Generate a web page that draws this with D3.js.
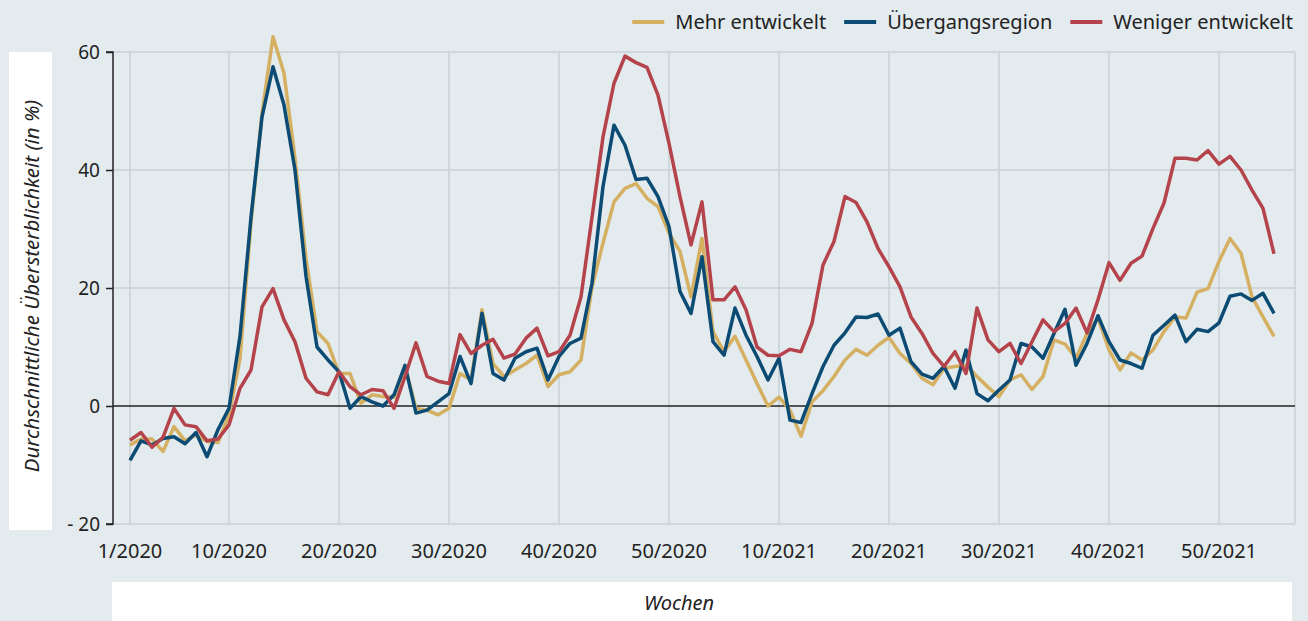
<!DOCTYPE html>
<html>
<head>
<meta charset="utf-8">
<script src="https://cdn.jsdelivr.net/npm/d3@7"></script>
<style>
  body { margin: 0; background: #e3ebee; }
  svg { display: block; font-family: "Noto Sans", sans-serif; }
</style>
</head>
<body>
<div id="chart"></div>
<script>
// weekly average excess mortality by region type (in %)
var weekIndex = d3.range(105);

var mehrEntwickelt = [
  -6.6, -5.6, -5.6, -7.7, -3.5, -5.9, -4.9, -6.0, -6.2, -1.5,
  8, 31, 49.6, 62.6, 56.4, 42, 25, 12.6, 10.6, 5.5,
  5.5, 0.5, 1.9, 1.6, 1.5, 6.7, -0.4, -0.7, -1.5, -0.4,
  5.5, 4.4, 16.3, 7.2, 5, 6.1, 7.2, 8.6, 3.3, 5.3,
  5.8, 7.8, 20.2, 27.6, 34.6, 36.9, 37.7, 35.2, 33.8, 29.3,
  26.2, 18.5, 28.4, 12.6, 9.2, 11.8, 7.8, 3.8, 0.0, 1.5,
  -0.7, -5.1, 0.7, 2.6, 5, 7.8, 9.6, 8.6, 10.3, 11.6,
  8.9, 7.2, 4.7, 3.6, 6.4, 6.7, 6.9, 5, 3.2, 1.6,
  4.4, 5.3, 2.8, 5, 11.2, 10.5, 8.1, 12.3, 14.9, 9.5,
  6.1, 9, 7.8, 9.5, 12.6, 15.1, 14.9, 19.3, 19.9, 24.5,
  28.4, 25.9, 18.5, 15.1, 11.8
];

var uebergangsregion = [
  -9.2, -5.9, -6.6, -5.5, -5.2, -6.4, -4.5, -8.6, -4, -0.4,
  11.8, 32, 49, 57.5, 51, 40, 22, 10, 7.8, 5.8,
  -0.4, 1.6, 0.7, 0, 1.9, 6.9, -1.2, -0.7, 0.7, 2.1,
  8.4, 3.8, 15.7, 5.5, 4.4, 8.1, 9.2, 9.8, 4.4, 8.4,
  10.6, 11.5, 20.8, 37.2, 47.6, 44.2, 38.4, 38.6, 35.5, 30.4,
  19.4, 15.7, 25.3, 10.9, 8.6, 16.6, 12, 8.4, 4.4, 8.1,
  -2.4, -2.8, 2.1, 6.7, 10.3, 12.4, 15.1, 15, 15.6, 12,
  13.2, 7.5, 5.4, 4.7, 6.7, 3, 9.5, 2.1, 0.9, 2.7,
  4.4, 10.6, 10, 8.1, 12.3, 16.4, 6.9, 10.6, 15.3, 10.9,
  7.8, 7.2, 6.4, 12, 13.7, 15.4, 10.9, 13, 12.6, 14.1,
  18.6, 19, 17.9, 19.1, 15.7
];

var wenigerEntwickelt = [
  -5.8, -4.5, -7, -5.3, -0.4, -3.2, -3.5, -5.9, -5.6, -3.2,
  3, 6.1, 16.8, 19.9, 14.6, 10.9, 4.7, 2.4, 1.9, 5.8,
  3.3, 1.9, 2.8, 2.6, -0.4, 5, 10.7, 5, 4.2, 3.8,
  12.1, 8.9, 10.3, 11.3, 8.1, 8.8, 11.5, 13.2, 8.5, 9.2,
  12, 18.5, 32, 45.6, 54.7, 59.3, 58.2, 57.4, 52.7, 44.5,
  35.5, 27.3, 34.6, 18, 18, 20.2, 16.3, 10, 8.6, 8.5,
  9.6, 9.2, 14, 23.9, 27.9, 35.5, 34.5, 31.2, 26.7, 23.6,
  20.2, 15.1, 12.3, 8.9, 6.7, 9.2, 5.5, 16.6, 11.2, 9.2,
  10.6, 7.2, 10.9, 14.6, 12.6, 14, 16.6, 12.4, 18, 24.3,
  21.3, 24.2, 25.4, 30.1, 34.4, 42, 42, 41.7, 43.3, 41,
  42.3, 40, 36.6, 33.5, 25.8
];

// x tick positions (index into the weeks) and their labels
var tickIndex = [0, 9, 19, 29, 39, 49, 59, 69, 79, 89, 99];
var tickLabels = ["1/2020", "10/2020", "20/2020", "30/2020", "40/2020", "50/2020",
  "10/2021", "20/2021", "30/2021", "40/2021", "50/2021"];

var yTicks = [-20, 0, 20, 40, 60];

var seriesNames = ["Mehr entwickelt", "Übergangsregion", "Weniger entwickelt"];
var seriesColors = ["#d5b062", "#0c4b74", "#b4434b"];
var seriesValues = [mehrEntwickelt, uebergangsregion, wenigerEntwickelt];

var svgWidth = 1308;
var svgHeight = 621;

var plot = { left: 113, right: 1295, top: 52, bottom: 524 };

var svg = d3.select("#chart")
  .append("svg")
  .attr("width", svgWidth)
  .attr("height", svgHeight);

svg.append("rect")
  .attr("width", svgWidth)
  .attr("height", svgHeight)
  .attr("fill", "#e3ebee");

// scales
var x = d3.scaleLinear().domain([0, 104]).range([130, 1274]);
var y = d3.scaleLinear().domain([-20, 60]).range([plot.bottom, plot.top]);

// gridlines
svg.append("g")
  .selectAll("line")
  .data(yTicks.filter(d => d !== 0))
  .enter().append("line")
  .attr("x1", plot.left)
  .attr("x2", plot.right)
  .attr("y1", d => y(d))
  .attr("y2", d => y(d))
  .attr("stroke", "#c9d0d3")
  .attr("stroke-width", 1.5);

svg.append("g")
  .selectAll("line")
  .data(tickIndex)
  .enter().append("line")
  .attr("x1", d => x(d))
  .attr("x2", d => x(d))
  .attr("y1", plot.top)
  .attr("y2", plot.bottom)
  .attr("stroke", "#c9d0d3")
  .attr("stroke-width", 1.5);

// right border of the plot
svg.append("line")
  .attr("x1", plot.right)
  .attr("x2", plot.right)
  .attr("y1", plot.top)
  .attr("y2", plot.bottom)
  .attr("stroke", "#c9d0d3")
  .attr("stroke-width", 1.5);

// zero line
svg.append("line")
  .attr("x1", plot.left)
  .attr("x2", plot.right)
  .attr("y1", y(0))
  .attr("y2", y(0))
  .attr("stroke", "#222")
  .attr("stroke-width", 1.5);

// y axis
var yAxis = svg.append("g")
  .attr("transform", `translate(${plot.left},0)`)
  .call(d3.axisLeft(y).tickValues(yTicks).tickSize(7).tickPadding(6)
    .tickFormat(d => d < 0 ? "- " + Math.abs(d) : d));
yAxis.select(".domain").attr("stroke", "#222").attr("stroke-width", 1.5)
  .attr("d", `M-7,${y(60)}H0V${y(-20)}H-7`);
yAxis.selectAll(".tick line").attr("stroke", "#222").attr("stroke-width", 1.5);
yAxis.selectAll(".tick text")
  .attr("font-family", "Noto Sans")
  .attr("font-size", 19)
  .attr("fill", "#222");

// x tick labels
svg.append("g")
  .selectAll("text")
  .data(tickIndex)
  .enter().append("text")
  .attr("x", d => x(d))
  .attr("y", 558)
  .attr("text-anchor", "middle")
  .attr("font-size", 20)
  .attr("fill", "#222")
  .text((d, i) => tickLabels[i]);

// lines
var line = d3.line()
  .x(d => x(d.i))
  .y(d => y(d.v));

seriesValues.forEach(function(vals, k) {
  svg.append("path")
    .datum(weekIndex.map(i => ({ i: i, v: vals[i] })))
    .attr("fill", "none")
    .attr("stroke", seriesColors[k])
    .attr("stroke-width", 3.5)
    .attr("stroke-linejoin", "round")
    .attr("d", line);
});

// y axis title box
svg.append("rect")
  .attr("x", 9)
  .attr("y", 52)
  .attr("width", 43)
  .attr("height", 478)
  .attr("fill", "#fff");

svg.append("text")
  .attr("transform", "translate(39,286) rotate(-90)")
  .attr("text-anchor", "middle")
  .attr("font-size", 20.5)
  .attr("font-style", "italic")
  .attr("fill", "#222")
  .text("Durchschnittliche Übersterblichkeit (in %)");

// x axis title box
svg.append("rect")
  .attr("x", 112)
  .attr("y", 582)
  .attr("width", 1180)
  .attr("height", 39)
  .attr("fill", "#fff");

svg.append("text")
  .attr("x", 679)
  .attr("y", 610)
  .attr("text-anchor", "middle")
  .attr("font-size", 20)
  .attr("font-style", "italic")
  .attr("fill", "#222")
  .text("Wochen");

// legend, right aligned at the top
var legend = svg.append("g");
var items = seriesNames.map(function(name, k) {
  var g = legend.append("g");
  g.append("line")
    .attr("x1", 0).attr("x2", 32)
    .attr("y1", 22).attr("y2", 22)
    .attr("stroke", seriesColors[k])
    .attr("stroke-width", 4);
  var t = g.append("text")
    .attr("x", 43)
    .attr("y", 29)
    .attr("font-size", 20)
    .attr("fill", "#222")
    .text(name);
  return { g: g, w: 43 + t.node().getComputedTextLength() };
});
var xpos = 1293;
for (var k = items.length - 1; k >= 0; k--) {
  xpos -= items[k].w;
  items[k].g.attr("transform", `translate(${xpos},0)`);
  xpos -= 18;
}
</script>
</body>
</html>
